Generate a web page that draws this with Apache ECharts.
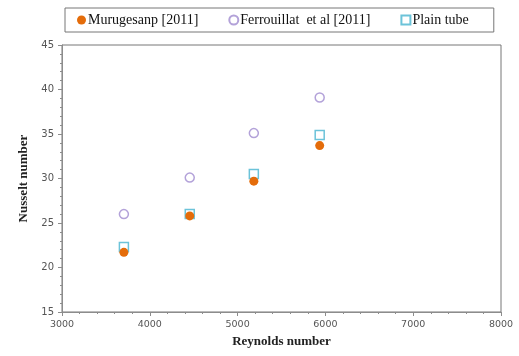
<!DOCTYPE html>
<html><head><meta charset="utf-8">
<script src="https://cdn.jsdelivr.net/npm/echarts@6/dist/echarts.min.js"></script>
<style>html,body{margin:0;padding:0;background:#fff}#c{width:519px;height:356px}</style>
</head><body><div id="c"></div>
<script>
var seriesNames = ['Murugesanp [2011]', 'Ferrouillat  et al [2011]', 'Plain tube'];
var reynolds = [3705, 4455, 5185, 5935];
var murugesan = [21.7, 25.8, 29.7, 33.7];
var ferrouillat = [26.0, 30.1, 35.1, 39.1];
var plainTube = [22.3, 26.0, 30.5, 34.9];
var xTicks = [3000, 4000, 5000, 6000, 7000, 8000];
var yTicks = [15, 20, 25, 30, 35, 40, 45];

function pairs(xs, ys){ return xs.map(function(x,i){return [x, ys[i]];}); }

var chart = echarts.init(document.getElementById('c'));
function axisCommon(fs){ return {
  axisLine:{show:true,lineStyle:{color:'#8c8c8c',width:1}},
  axisTick:{show:true,inside:false,length:4,lineStyle:{color:'#8c8c8c'}},
  minorTick:{show:true,splitNumber:5,length:2,lineStyle:{color:'#8c8c8c'}},
  splitLine:{show:false},
  axisLabel:{color:'#555',fontFamily:'DejaVu Sans',fontSize:fs,formatter:function(v){return String(v);}}
};}
chart.setOption({
  animation:false,
  grid:{left:62,right:18,top:45,bottom:44,show:true,borderColor:'#777',borderWidth:1,backgroundColor:'#fff'},
  legend:{
    left:65, top:8,
    padding:[5,25,5,12],
    borderColor:'#777', borderWidth:1,
    itemWidth:9, itemHeight:9, itemGap:30,
    textStyle:{fontFamily:'Liberation Serif',fontSize:14,color:'#111',padding:[0,0,0,-3]},
    data:seriesNames
  },
  xAxis:Object.assign({
    type:'value',min:xTicks[0],max:xTicks[xTicks.length-1],interval:1000,
    name:'Reynolds number',nameLocation:'middle',nameGap:22,
    nameTextStyle:{fontFamily:'Liberation Serif',fontWeight:'bold',fontSize:13,color:'#222'}
  },axisCommon(9.5)),
  yAxis:Object.assign({
    type:'value',min:yTicks[0],max:yTicks[yTicks.length-1],interval:5,
    name:'Nusselt number',nameLocation:'middle',nameGap:30,
    nameTextStyle:{fontFamily:'Liberation Serif',fontWeight:'bold',fontSize:13,color:'#222'}
  },axisCommon(10)),
  series:[
    {name:seriesNames[0],type:'scatter',z:5,symbol:'circle',symbolSize:9,
     itemStyle:{color:'#e46c0a',opacity:1},data:pairs(reynolds,murugesan)},
    {name:seriesNames[1],type:'scatter',z:3,symbol:'circle',symbolSize:9,
     itemStyle:{color:'#fff',borderColor:'#b3a2d9',borderWidth:1.5,opacity:1},data:pairs(reynolds,ferrouillat)},
    {name:seriesNames[2],type:'scatter',z:2,symbol:'rect',symbolSize:9,
     itemStyle:{color:'#fff',borderColor:'#6cc3d9',borderWidth:1.5,opacity:1},data:pairs(reynolds,plainTube)}
  ]
});
</script></body></html>
